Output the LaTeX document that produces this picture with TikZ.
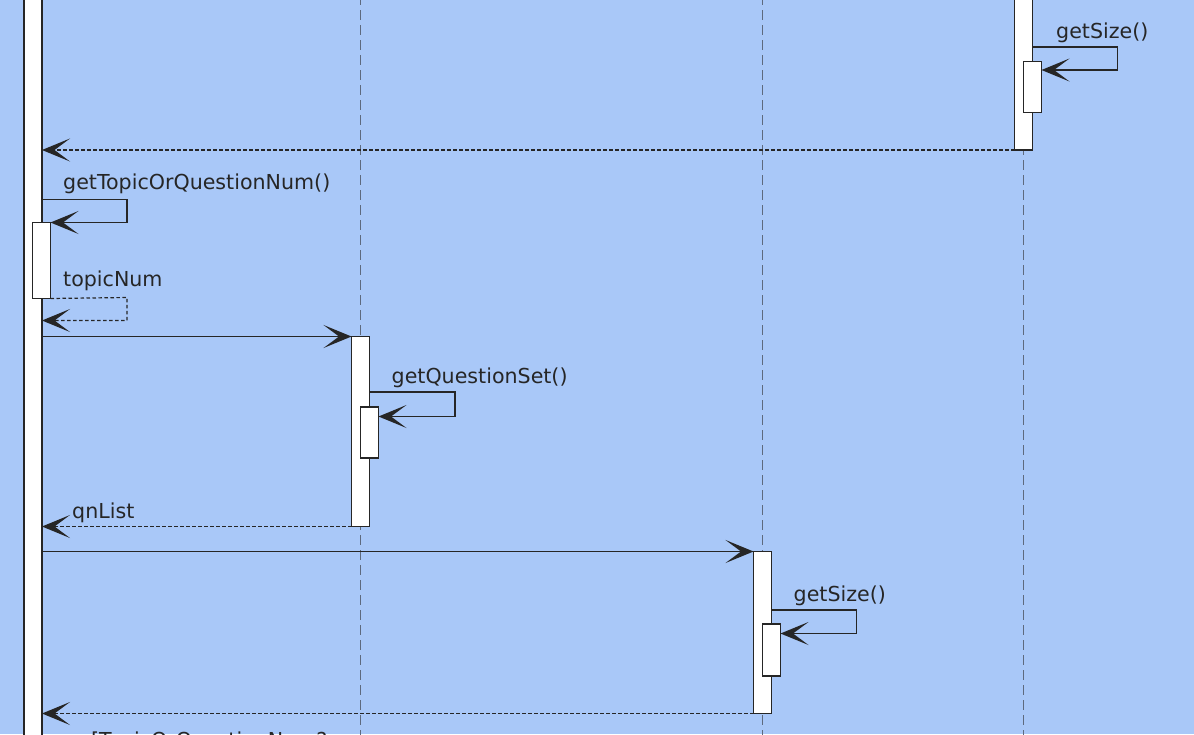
\documentclass[tikz,border=0pt]{standalone}
\usepackage{fontspec}
\setmainfont{DejaVu Sans}
\usetikzlibrary{arrows.meta}
\definecolor{bgblue}{HTML}{A9C8F8}
\definecolor{lc}{HTML}{262626}
\definecolor{lifec}{HTML}{5E6A7E}
\tikzset{
  headA/.tip={Stealth[length=28pt,width=23pt,inset=15.5pt]},
  act/.style={draw=lc, fill=white, line width=1.4pt, inner sep=0pt, outer sep=0pt,
    minimum width=18pt, anchor=north west},
  life/.style={draw=lifec, line width=1.1pt, dash pattern=on 10pt off 5pt},
  msg/.style={draw=lc, line width=1.5pt, -headA},
  ret/.style={draw=lc, line width=1.2pt, dash pattern=on 3.5pt off 2.5pt, -headA},
  lbl/.style={anchor=base west, inner sep=0pt, text=lc, font=\fontsize{20.6}{24}\selectfont}
}
\begin{document}
\begin{tikzpicture}[x=1pt,y=-1pt]
\useasboundingbox (0,0) rectangle (1194,734);
\clip (0,0) rectangle (1194,734);
\fill[bgblue] (0,0) rectangle (1194,734);
% lifelines
\coordinate (l2t) at (360.5,-5); \coordinate (l2b) at (360.5,740);
\coordinate (l3t) at (762.5,-5); \coordinate (l3b) at (762.5,740);
\coordinate (l4t) at (1023.5,-5); \coordinate (l4b) at (1023.5,740);
\draw[life] (l2t) -- (l2b);
\draw[life] (l3t) -- (l3b);
\draw[life] (l4t) -- (l4b);
% activation bars
\node[act, minimum height=760pt] (L) at (24,-10) {};
\node[act, minimum height=76pt] (Ln) at (32.5,222.5) {};
\node[act, minimum height=190pt] (B) at (351.5,336.5) {};
\node[act, minimum height=51pt] (Bn) at (360.5,407) {};
\node[act, minimum height=162pt] (C) at (753.5,551.5) {};
\node[act, minimum height=52pt] (Cn) at (762.5,624) {};
\node[act, minimum height=160pt] (D) at (1014.5,-10) {};
\node[act, minimum height=51pt] (Dn) at (1023.5,61.5) {};
% labels
\node[lbl] (t1) at (1056,38.5) {getSize()};
\node[lbl] (t2) at (63,189) {getTopicOrQuestionNum()};
\node[lbl] (t3) at (63,286.5) {topicNum};
\node[lbl] (t4) at (391.5,383) {getQuestionSet()};
\node[lbl] (t5) at (72,518) {qnList};
\node[lbl] (t6) at (793.5,601.5) {getSize()};
\node[lbl] (t7) at (91,747) {[TopicOrQuestionNum?};
% messages
\draw[msg] (D.east |- 0,47) -- (1117.5,47) |- (Dn.east |- 0,70);
\draw[ret] (D.south west) -- (L.east |- D.south);
\draw[msg] (L.east |- 0,199.5) -- (127,199.5) |- (Ln.north east);
\draw[ret] (Ln.south east) -- (127,297.5) |- (L.east |- 0,320.5);
\draw[msg] (L.east |- B.north) -- (B.north west);
\draw[msg] (B.east |- 0,392) -- (455,392) |- (Bn.east |- 0,416.5);
\draw[ret] (B.south west) -- (L.east |- B.south);
\draw[msg] (L.east |- C.north) -- (C.north west);
\draw[msg] (C.east |- 0,610) -- (856.5,610) |- (Cn.east |- 0,633.5);
\draw[ret] (C.south west) -- (L.east |- C.south);
\end{tikzpicture}
\end{document}
